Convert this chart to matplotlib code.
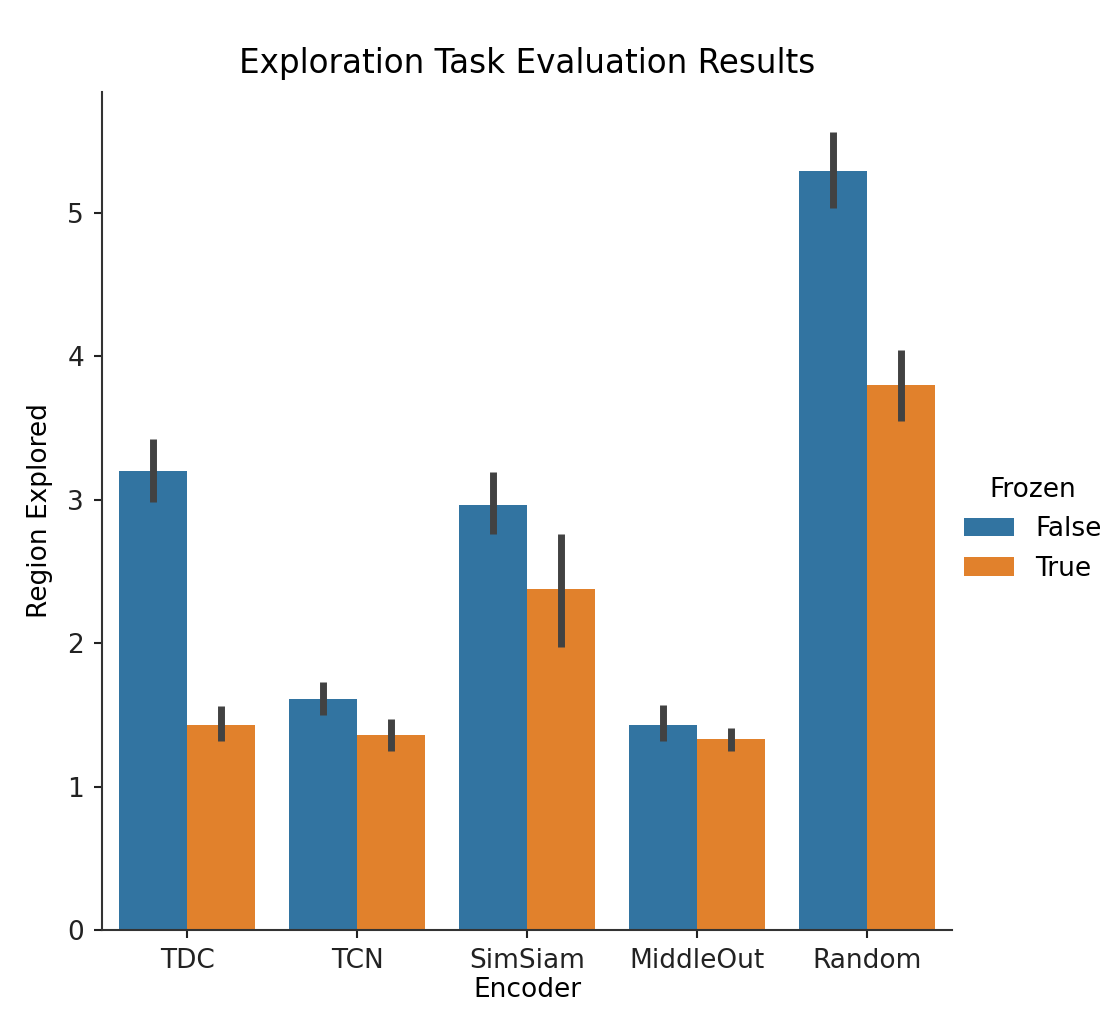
import numpy as np
import matplotlib
matplotlib.use('Agg')
import matplotlib.pyplot as plt
from matplotlib.patches import Patch

# values
encoders = ['TDC', 'TCN', 'SimSiam', 'MiddleOut', 'Random']
frozen_levels = ['False', 'True']

mean_false = [3.20, 1.61, 2.96, 1.43, 5.29]
low_false = [2.98, 1.50, 2.76, 1.32, 5.03]
high_false = [3.42, 1.73, 3.19, 1.57, 5.56]

mean_true = [1.43, 1.36, 2.38, 1.33, 3.80]
low_true = [1.32, 1.25, 1.97, 1.25, 3.55]
high_true = [1.56, 1.47, 2.76, 1.41, 4.04]

colors = ['#3274a1', '#e1812c']

plt.rcParams['font.family'] = 'DejaVu Sans'
fs = 19

fig = plt.figure(figsize=(11.02, 10.18), dpi=100)
ax = fig.add_axes([0.0926, 0.0864, 0.7715, 0.8232])

x = np.arange(len(encoders))
w = 0.4
series = [(mean_false, low_false, high_false), (mean_true, low_true, high_true)]
for i, (m, lo, hi) in enumerate(series):
    m = np.array(m)
    err = np.vstack([m - np.array(lo), np.array(hi) - m])
    pos = x - w / 2 + i * w
    ax.bar(pos, m, width=w, color=colors[i], linewidth=0)
    ax.errorbar(pos, m, yerr=err, fmt='none', ecolor='#424242',
                elinewidth=5, capsize=0)

ax.set_xlim(-0.5, 4.5)
ax.set_ylim(0, 5.84)
ax.set_xticks(x)
ax.set_xticklabels(encoders)
ax.set_yticks([0, 1, 2, 3, 4, 5])

for s in ['top', 'right']:
    ax.spines[s].set_visible(False)
for s in ['left', 'bottom']:
    ax.spines[s].set_linewidth(1.5)
    ax.spines[s].set_color('#333333')
ax.tick_params(labelsize=fs, width=1.5, length=6, pad=7, colors='#222222')

ax.set_xlabel('Encoder', fontsize=fs, labelpad=2)
ax.set_ylabel('Region Explored', fontsize=fs, labelpad=10)
ax.set_title('Exploration Task Evaluation Results', fontsize=23.5, pad=14)

handles = [Patch(facecolor=c, label=l) for c, l in zip(colors, frozen_levels)]
fig.legend(handles=handles, title='Frozen', loc='center left',
           bbox_to_anchor=(0.853, 0.48), frameon=False,
           fontsize=fs, title_fontsize=fs,
           handlelength=1.9, handleheight=0.7, handletextpad=0.8,
           labelspacing=0.5)

plt.savefig('out.png', dpi=100)
